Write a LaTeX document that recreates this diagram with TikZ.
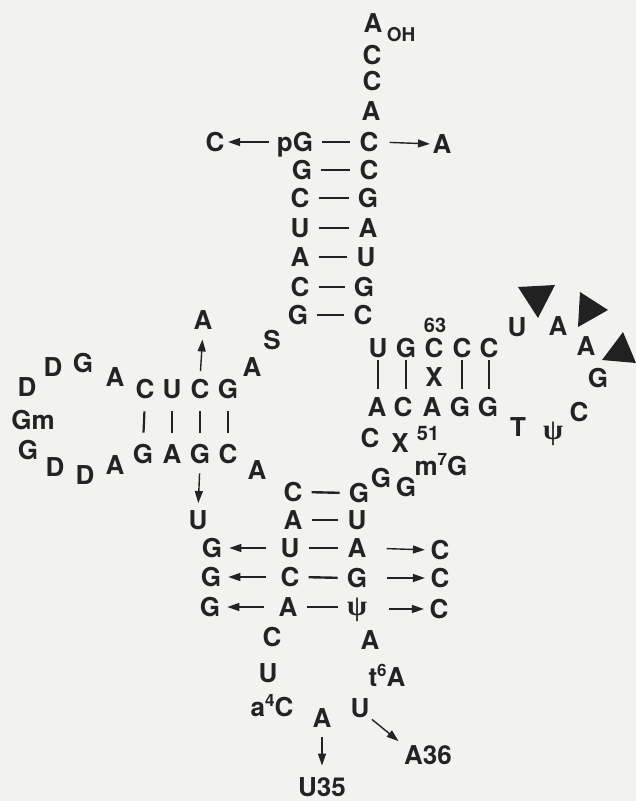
\documentclass[tikz,border=0pt]{standalone}
\usepackage{fontspec}
\setmainfont{TeX Gyre Heros}
\newfontfamily\psifont{Liberation Serif}
\usetikzlibrary{arrows.meta}
\definecolor{ink}{RGB}{35,35,35}
\definecolor{paper}{RGB}{242,242,240}
\newcommand{\sups}[1]{\raisebox{0.7ex}{\fontsize{17}{17}\selectfont #1}}
\tikzset{
 nt/.style={font=\fontsize{26}{26}\selectfont\bfseries, text=ink, inner sep=0pt, text height=18.5pt, text depth=0pt},
 sm/.style={font=\fontsize{20}{20}\selectfont\bfseries, text=ink, inner sep=0pt},
 ps/.style={font=\fontsize{29}{29}\selectfont\psifont\bfseries, text=ink, inner sep=0pt},
 bond/.style={draw=ink, line width=2.4pt, shorten <=9pt, shorten >=9pt},
 vbar/.style={draw=ink, line width=2.2pt},
 arr/.style={draw=ink, line width=1.4pt, -{Triangle[length=12pt,width=8pt]}},
 tri/.style={fill=ink!95!black},
}
\begin{document}
\begin{tikzpicture}[x=1pt,y=-1pt]
\fill[paper] (0,0) rectangle (636,801);
\useasboundingbox (0,0) rectangle (636,801);
% ---------- acceptor stem ----------
\node[nt] (a0) at (373,23) {A};
\node[sm] (aOH) at (401,35) {\fontsize{19}{19}\selectfont OH};
\node[nt] (a1) at (372,55) {C};
\node[nt] (a2) at (372,81) {C};
\node[nt] (a3) at (371,111) {A};
\node[nt] (l1) at (295,142) {pG};
\node[nt] (r1) at (369,142) {C};
\node[nt] (l2) at (302,170) {G};
\node[nt] (r2) at (369,170) {C};
\node[nt] (l3) at (300,198) {C};
\node[nt] (r3) at (368,198) {G};
\node[nt] (l4) at (300,228) {U};
\node[nt] (r4) at (368,228) {A};
\node[nt] (l5) at (300,257) {A};
\node[nt] (r5) at (366,257) {U};
\node[nt] (l6) at (300,287) {C};
\node[nt] (r6) at (364,287) {G};
\node[nt] (l7) at (298,315) {G};
\node[nt] (r7) at (363,315) {C};
\foreach \i in {1,...,7} \draw[bond] (l\i.east) -- (r\i.west);
\node[nt] (Cx) at (215,142) {C};
\node[nt] (Ax) at (442,144) {A};
\draw[arr, shorten <=8pt, shorten >=3.5pt] (l1.west) -- (Cx.east);
\draw[arr, shorten <=11pt, shorten >=2.5pt] (r1.east) -- (Ax.west);
% ---------- D arm ----------
\node[nt] (dt1) at (145,389) {C};
\node[nt] (dt2) at (172,389) {U};
\node[nt] (dt3) at (200,389) {C};
\node[nt] (dt4) at (228,389) {G};
\node[nt] (db1) at (143,454) {G};
\node[nt] (db2) at (172,454) {A};
\node[nt] (db3) at (200,454) {G};
\node[nt] (db4) at (228,454) {C};
\foreach \i in {1,...,4} \draw[vbar, shorten <=13pt, shorten >=12pt] (dt\i.south) -- (db\i.north);
\node[nt] (dA) at (203,320) {A};
\draw[arr, shorten <=8.5pt, shorten >=10pt] (dt3.north) -- (dA.south);
\node[nt] (dS) at (272,340) {S};
\node[nt] (dA2) at (252,367) {A};
\node[nt] (d1) at (115,377) {A};
\node[nt] (d2) at (83,363) {G};
\node[nt] (d3) at (53,367) {D};
\node[nt] (d4) at (27,387) {D};
\node[nt] (d5) at (33,420) {Gm};
\node[nt] (d6) at (28,450) {G};
\node[nt] (d7) at (55,467) {D};
\node[nt] (d8) at (85,475) {D};
\node[nt] (d9) at (115,465) {A};
\node[nt] (dA3) at (257,470) {A};
% ---------- anticodon arm ----------
\node[nt] (cl1) at (293,492) {C};
\node[nt] (cr1) at (359,493) {G};
\node[nt] (cl2) at (293,520) {A};
\node[nt] (cr2) at (357,520) {U};
\node[nt] (cl3) at (290,548) {U};
\node[nt] (cr3) at (357,548) {A};
\node[nt] (cl4) at (290,577) {C};
\node[nt] (cr4) at (357,578) {G};
\node[nt] (cl5) at (288,607) {A};
\node[ps] (cr5) at (357,610) {ψ};
\foreach \i in {1,...,4} \draw[bond] (cl\i.east) -- (cr\i.west);
\draw[bond] (cl5.east) -- (cr5.west |- cl5.east);
\node[nt] (cU) at (198,520) {U};
\draw[arr, shorten <=10pt, shorten >=7.5pt] (db3.south) -- (cU.north);
\node[nt] (cg3) at (212,548) {G};
\node[nt] (cg4) at (211,577) {G};
\node[nt] (cg5) at (210,607) {G};
\node[nt] (cc3) at (440,550) {C};
\node[nt] (cc4) at (440,578) {C};
\node[nt] (cc5) at (439,609) {C};
\foreach \i in {3,4,5} {
  \draw[arr, shorten <=14pt, shorten >=7pt] (cl\i.west) -- (cg\i.east);
}
\draw[arr, shorten <=20pt, shorten >=5.5pt] (cr3.east) -- (cc3.west);
\draw[arr, shorten <=20pt, shorten >=5.5pt] (cr4.east) -- (cc4.west);
\draw[arr, shorten <=22pt, shorten >=5.5pt] (cr5.east |- cc5.west) -- (cc5.west);
\node[nt] (gG1) at (381,478) {G};
\node[nt] (gG2) at (406,487) {G};
\node[nt] (m7G) at (441,466) {m\sups{7}G};
\node[nt] (cC) at (272,637) {C};
\node[nt] (cA) at (370,640) {A};
\node[nt] (cU2) at (268,673) {U};
\node[nt] (a4C) at (272,707) {a\sups{4}C};
\node[nt] (t6A) at (387,677) {t\sups{6}A};
\node[nt] (cA35) at (322,718) {A};
\node[nt] (cU36) at (360,708) {U};
\node[nt] (U35) at (322,787) {U35};
\node[nt] (A36) at (428,755) {A36};
\draw[arr, shorten <=10pt, shorten >=12pt] (cA35.south) -- (U35.north);
\draw[arr, shorten <=3pt, shorten >=7pt] (cU36.south east) -- (A36.north west);
% ---------- T arm ----------
\node[nt] (tt1) at (378,348) {U};
\node[nt] (tt2) at (406,348) {G};
\node[nt] (tt3) at (434,348) {C};
\node[nt] (tt4) at (462,348) {C};
\node[nt] (tt5) at (489,348) {C};
\node[nt] (tb1) at (377,407) {A};
\node[nt] (tb2) at (403,407) {C};
\node[nt] (tb3) at (432,407) {A};
\node[nt] (tb4) at (460,407) {G};
\node[nt] (tb5) at (488,407) {G};
\draw[vbar, shorten <=3pt, shorten >=9pt] (tt1.south) -- (tt1.south |- tb1.north);
\draw[vbar, shorten <=3pt, shorten >=9pt] (tt2.south) -- (tt2.south |- tb2.north);
\draw[vbar, shorten <=3pt, shorten >=9pt] (tt4.south) -- (tt4.south |- tb4.north);
\draw[vbar, shorten <=3pt, shorten >=9pt] (tt5.south) -- (tt5.south |- tb5.north);
\node[nt] (tX) at (434,377) {X};
\node[sm] (t63) at (435,325) {63};
\node[nt] (tC) at (370,438) {C};
\node[nt] (tX2) at (400,443) {X};
\node[sm] (t51) at (428,433) {51};
\node[nt] (tU) at (517,327) {U};
\node[nt] (tA1) at (558,326) {A};
\node[nt] (tA2) at (586,346) {A};
\node[nt] (tG) at (598,378) {G};
\node[nt] (tC2) at (579,412) {C};
\node[ps] (tpsi) at (553,434) {ψ};
\node[nt] (tT) at (518,427) {T};
\fill[tri] (518,287) -- (555,285) -- (538,318) -- cycle;
\fill[tri] (580,292) -- (608,310) -- (578,327) -- cycle;
\fill[tri] (602,360) -- (623,332) -- (636,363) -- cycle;
\end{tikzpicture}
\end{document}
